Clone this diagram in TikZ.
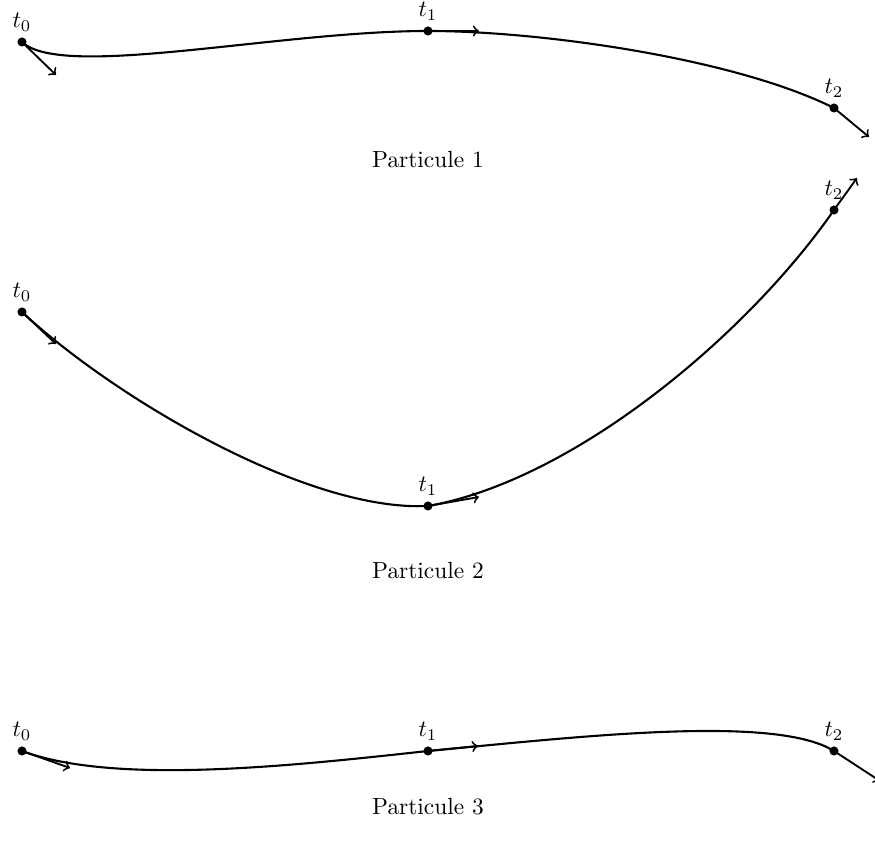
\documentclass[tikz,border=0pt]{standalone}
\begin{document}
\begin{tikzpicture}[x=0.4274pt,y=-0.4274pt,
  dot/.style={circle,fill=black,inner sep=0pt,minimum size=3.9pt},
  traj/.style={line width=0.9pt},
  vel/.style={line width=0.8pt,->},
  lab/.style={font=\normalsize}]
\useasboundingbox (0,0) rectangle (875,854);
% Particule 1
\node[dot,label={[label distance=-1pt]above:$t_0$}] (a0) at (22,42) {};
\node[dot,label={[label distance=-1pt]above:$t_1$}] (a1) at (428,31) {};
\node[dot,label={[label distance=-1pt]above:$t_2$}] (a2) at (834,108) {};
\coordinate (va0) at (56,75);
\coordinate (va1) at (479,31);
\coordinate (va2) at (869,137);
\draw[traj] (a0.center) .. controls (62,80) and (278,31) .. (a1.center)
  .. controls (540,31) and (734,58) .. (a2.center);
\draw[vel] (a0.center) -- (va0);
\draw[vel] (a1.center) -- (va1);
\draw[vel] (a2.center) -- (va2);
\node[lab] (p1) at (428,160) {Particule 1};
% Particule 2
\node[dot,label={[label distance=-1pt]above:$t_0$}] (b0) at (22,312) {};
\node[dot,label={[label distance=-1pt]above:$t_1$}] (b1) at (428,506) {};
\node[dot,label={[label distance=-1pt]above:$t_2$}] (b2) at (834,210) {};
\coordinate (vb0) at (56,344);
\coordinate (vb1) at (479,497);
\coordinate (vb2) at (857,178);
\draw[traj] (b0.center) .. controls (112,396) and (306,512) .. (b1.center)
  .. controls (575,480) and (748,334) .. (b2.center);
\draw[vel] (b0.center) -- (vb0);
\draw[vel] (b1.center) -- (vb1);
\draw[vel] (b2.center) -- (vb2);
\node[lab] (p2) at (428,571) {Particule 2};
% Particule 3
\node[dot,label={[label distance=-1pt]above:$t_0$}] (c0) at (22,751) {};
\node[dot,label={[label distance=-1pt]above:$t_1$}] (c1) at (428,751) {};
\node[dot,label={[label distance=-1pt]above:$t_2$}] (c2) at (834,751) {};
\coordinate (vc0) at (70,768);
\coordinate (vc1) at (478,746);
\coordinate (vc2) at (880,781);
\draw[traj] (c0.center) .. controls (116,786) and (299,765) .. (c1.center)
  .. controls (577,737) and (775,714) .. (c2.center);
\draw[vel] (c0.center) -- (vc0);
\draw[vel] (c1.center) -- (vc1);
\draw[vel] (c2.center) -- (vc2);
\node[lab] (p3) at (428,807) {Particule 3};
\end{tikzpicture}
\end{document}
